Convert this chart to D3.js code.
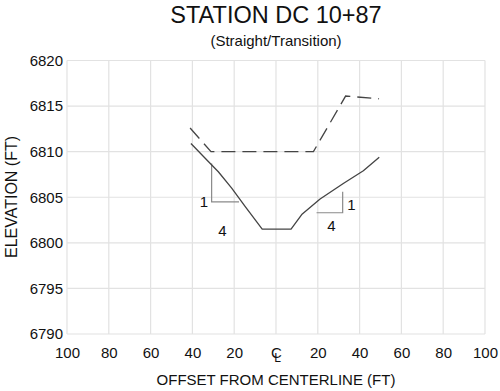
<!DOCTYPE html>
<meta charset="utf-8">
<style>
body { margin: 0; background: #fff; }
text { font-family: "Liberation Sans", Arial, sans-serif; fill: #111; }
</style>
<html>
<head><title>Station DC 10+87</title></head>
<body>
<svg id="chart" width="500" height="391"></svg>
<script src="https://cdn.jsdelivr.net/npm/d3@7"></script>
<script>
// offset (ft) and elevation (ft)
var groundOffset = [-40.7, -34.0, -27.6, -21.2, -14.8, -6.6, 7.2, 12.3, 21.1, 32.2, 41.8, 49.4];
var groundElev   = [6810.9, 6809.3, 6807.8, 6806.0, 6804.0, 6801.5, 6801.5, 6803.1, 6804.8, 6806.5, 6807.9, 6809.4];

var dashOffset = [-41.1, -31.1, 17.9, 33.3, 49.3];
var dashElev   = [6812.6, 6810.0, 6810.0, 6816.1, 6815.8];

var xTicks = [-100, -80, -60, -40, -20, 0, 20, 40, 60, 80, 100];
var yTicks = [6790, 6795, 6800, 6805, 6810, 6815, 6820];

// slope marks: [offset of vertical leg, top elev, bottom elev, offset of horizontal end]
var slopeLeft  = [-30.8, 6808.7, 6804.5, -17.7];
var slopeRight = [31.9, 6805.6, 6803.3, 19.4];

var svg = d3.select("#chart");
var pLeft = 67, pRight = 485, pTop = 60.5, pBottom = 334;

var x = d3.scaleLinear().domain([-100, 100]).range([pLeft, pRight]);
var y = d3.scaleLinear().domain([6790, 6820]).range([pBottom, pTop]);

// grid
svg.append("g").selectAll("line").data(xTicks).enter().append("line")
  .attr("x1", function(d) { return x(d); }).attr("x2", function(d) { return x(d); })
  .attr("y1", pTop).attr("y2", pBottom)
  .attr("stroke", "#e2e2e2").attr("stroke-width", 1.2);
svg.append("g").selectAll("line").data(yTicks).enter().append("line")
  .attr("x1", pLeft).attr("x2", pRight)
  .attr("y1", function(d) { return y(d); }).attr("y2", function(d) { return y(d); })
  .attr("stroke", "#e2e2e2").attr("stroke-width", 1.2);

// y tick labels
var yAxis = svg.append("g").attr("transform", "translate(" + pLeft + ",0)")
  .call(d3.axisLeft(y).tickValues(yTicks).tickSize(0).tickPadding(4).tickFormat(d3.format("d")));
yAxis.select(".domain").remove();
yAxis.selectAll("text").style("font-size", "15px").attr("fill", "#111")
  .style("font-family", "Liberation Sans, Arial, sans-serif");

// x tick labels
var xAxis = svg.append("g").attr("transform", "translate(0," + (pBottom + 10) + ")")
  .call(d3.axisBottom(x).tickValues(xTicks).tickSize(0)
    .tickFormat(function(d) { return d === 0 ? "C" : Math.abs(d); }));
xAxis.select(".domain").remove();
xAxis.selectAll("text").style("font-size", "15px").attr("fill", "#111")
  .style("font-family", "Liberation Sans, Arial, sans-serif");
// the L of the centerline mark
xAxis.append("text").attr("x", x(0) + 1.5).attr("y", 18)
  .attr("text-anchor", "middle").style("font-size", "12px").attr("fill", "#111")
  .text("L");

// slope marks
function slopeMark(s, oneX, oneY, fourX, fourY) {
  var p = d3.path();
  p.moveTo(x(s[0]), y(s[1]));
  p.lineTo(x(s[0]), y(s[2]));
  p.lineTo(x(s[3]), y(s[2]));
  svg.append("path").attr("d", p.toString()).attr("fill", "none")
    .attr("stroke", "#8a8a8a").attr("stroke-width", 1.2);
  svg.append("text").attr("x", oneX).attr("y", oneY).attr("text-anchor", "middle")
    .style("font-size", "15px").text("1");
  svg.append("text").attr("x", fourX).attr("y", fourY).attr("text-anchor", "middle")
    .style("font-size", "15px").text("4");
}
slopeMark(slopeLeft, 204, 207, 222.5, 236);
slopeMark(slopeRight, 351.5, 210, 331.5, 231);

var line = d3.line()
  .x(function(d) { return x(d[0]); })
  .y(function(d) { return y(d[1]); });

svg.append("path")
  .datum(d3.zip(groundOffset, groundElev))
  .attr("d", line).attr("fill", "none")
  .attr("stroke", "#444").attr("stroke-width", 1.3)
  .attr("stroke-linejoin", "round");

svg.append("path")
  .datum(d3.zip(dashOffset, dashElev))
  .attr("d", line)
  .attr("fill", "none")
  .attr("stroke", "#444").attr("stroke-width", 1.3)
  .attr("stroke-dasharray", "14,7");

// titles
svg.append("text").attr("x", 276).attr("y", 23).attr("text-anchor", "middle")
  .style("font-size", "23.5px").text("STATION DC 10+87");
svg.append("text").attr("x", 276).attr("y", 46).attr("text-anchor", "middle")
  .style("font-size", "15px").text("(Straight/Transition)");
svg.append("text").attr("x", 276).attr("y", 385).attr("text-anchor", "middle")
  .style("font-size", "15px").text("OFFSET FROM CENTERLINE (FT)");
svg.append("text").attr("transform", "translate(17,197) rotate(-90)").attr("text-anchor", "middle")
  .style("font-size", "16px").text("ELEVATION (FT)");
</script>
</body>
</html>
